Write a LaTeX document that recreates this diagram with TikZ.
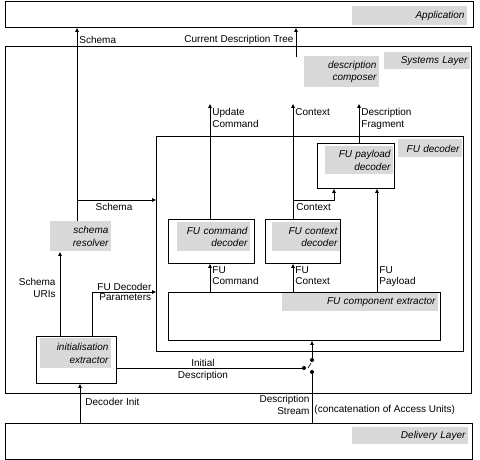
\documentclass[tikz,border=0pt]{standalone}
\usepackage{fontspec}
\setmainfont{Liberation Sans}
\usetikzlibrary{arrows.meta}
\definecolor{lg}{RGB}{217,217,217}
\begin{document}
\begin{tikzpicture}[x=1pt,y=-1pt,
  font=\fontsize{10}{11.5}\selectfont,
  line width=0.9pt,
  box/.style={draw, anchor=north west, inner sep=0pt},
  lab/.style={fill=lg, anchor=north west, inner xsep=3pt, inner ysep=0pt,
    align=right, font=\fontsize{10}{12.5}\selectfont\itshape},
  txt/.style={inner sep=0pt, align=left},
  arr/.style={-{Triangle[length=4pt,width=3.5pt]}},
  dot/.style={circle, fill, inner sep=0pt, minimum size=4pt}]
\useasboundingbox (0,0) rectangle (480,460);
% layer boxes
\node[box, minimum width=468, minimum height=26] (app) at (5,1) {};
\node[box, minimum width=466, minimum height=347] (sys) at (5,46) {};
\node[box, minimum width=467, minimum height=36] (del) at (5,423) {};
\node[box, minimum width=307, minimum height=215] (fud) at (156,136) {};
% inner boxes
\node[box, minimum width=77, minimum height=45] (pay) at (317,143) {};
\node[box, minimum width=86, minimum height=44] (cmd) at (168,219) {};
\node[box, minimum width=75, minimum height=44] (ctx) at (265,219) {};
\node[box, minimum width=272, minimum height=48] (ext) at (168,292) {};
\node[box, minimum width=80, minimum height=47] (ini) at (36,336) {};
% grey labels
\node[lab, text width=109, minimum height=19] (appl) at (352,6) {Application};
\node[lab, text width=80, minimum height=17] (sysl) at (384,52) {Systems Layer};
\node[lab, text width=69, minimum height=31] (comp) at (304,56) {description\\composer};
\node[lab, text width=58, minimum height=18] (fudl) at (398,139) {FU decoder};
\node[lab, text width=62, minimum height=28] (payl) at (325,146) {FU payload\\decoder};
\node[lab, text width=55, minimum height=30] (res) at (50,221) {schema\\resolver};
\node[lab, text width=67, minimum height=29] (cmdl) at (177,222) {FU command\\decoder};
\node[lab, text width=62, minimum height=29] (ctxl) at (272,222) {FU context\\decoder};
\node[lab, text width=150, minimum height=18] (extl) at (282,293) {FU component extractor};
\node[lab, text width=65, minimum height=30] (inil) at (40,338) {initialisation\\extractor};
\node[lab, text width=110, minimum height=17] (dell) at (352,427) {Delivery Layer};
% column coordinates
\coordinate (cS) at (77,0);
\coordinate (cT) at (296,0);
\coordinate (cU) at (210,0);
\coordinate (cC) at (293,0);
\coordinate (cF) at (359,0);
\coordinate (cK) at (334,0);
\coordinate (cP) at (377,0);
\coordinate (cR) at (60,0);
\coordinate (cD) at (92,0);
\coordinate (cI) at (80,0);
\coordinate (cW) at (312,0);
% top connectors
\draw[arr] (res.north -| cS) -- (app.south -| cS);
\node[txt, anchor=west] (tS) at (79,40) {Schema};
\coordinate (compTop) at (296,57);
\draw[arr] (compTop) -- (app.south -| cT);
\node[txt, anchor=east] (tT) at (294,40) {Current Description Tree};
\coordinate (yTop) at (0,104);
\draw[arr] (cmd.north -| cU) -- (yTop -| cU);
\node[txt, anchor=north west] (tU) at (212,108) {Update\\Command};
\draw[arr] (ctx.north -| cC) -- (yTop -| cC);
\node[txt, anchor=north west] (tC) at (295,108) {Context};
\draw[arr] (pay.north -| cF) -- (yTop -| cF);
\node[txt, anchor=north west] (tF) at (361,108) {Description\\Fragment};
% context to payload
\coordinate (yK) at (0,200);
\draw[arr] (yK -| cC) -| (pay.south -| cK);
\node[txt, anchor=north west] (tK) at (296,203) {Context};
% FU payload
\draw[arr] (ext.north -| cP) -- (pay.south -| cP);
\node[txt, anchor=north west] (tP) at (379,266) {FU\\Payload};
% FU command / context
\draw[arr] (ext.north -| cU) -- (cmd.south -| cU);
\node[txt, anchor=north west] (tUc) at (212,266) {FU\\Command};
\draw[arr] (ext.north -| cC) -- (ctx.south -| cC);
\node[txt, anchor=north west] (tCc) at (295,266) {FU\\Context};
% schema to FU decoder
\draw[arr] (yK -| cS) -- (yK -| fud.west);
\node[txt, anchor=north] (tS2) at (114,203) {Schema};
% schema URIs
\draw[arr] (ini.north -| cR) -- (res.south -| cR);
\node[txt, anchor=north east, align=right] (tR) at (56,278) {Schema\\URIs};
% FU decoder parameters
\coordinate (yD) at (0,292);
\draw[arr] (ini.north -| cD) -- (yD -| cD) -- (yD -| fud.west);
\node[txt, anchor=south west] (tD1) at (97,291) {FU Decoder};
\node[txt, anchor=north west] (tD2) at (99,293) {Parameters};
% decoder init
\draw[arr] (del.north -| cI) -- (ini.south -| cI);
\node[txt, anchor=west] (tI) at (85,402) {Decoder Init};
% switch
\node[dot] (sw1) at (312,360) {};
\node[dot] (sw2) at (312,372) {};
\node[dot] (sw3) at (304,368) {};
\draw[arr] (sw1) -- (ext.south -| cW);
\draw (del.north -| cW) -- (sw2);
\draw[line width=0.6pt] (311,363) -- (308,368);
\draw (ini.east |- sw3) -- (sw3);
\node[txt, anchor=north, align=center] (tInit) at (203,359) {Initial\\Description};
\node[txt, anchor=north east, align=right] (tDS) at (310,395) {Description\\Stream};
\node[txt, anchor=north west] (tAU) at (314,405) {(concatenation of Access Units)};
\end{tikzpicture}
\end{document}
